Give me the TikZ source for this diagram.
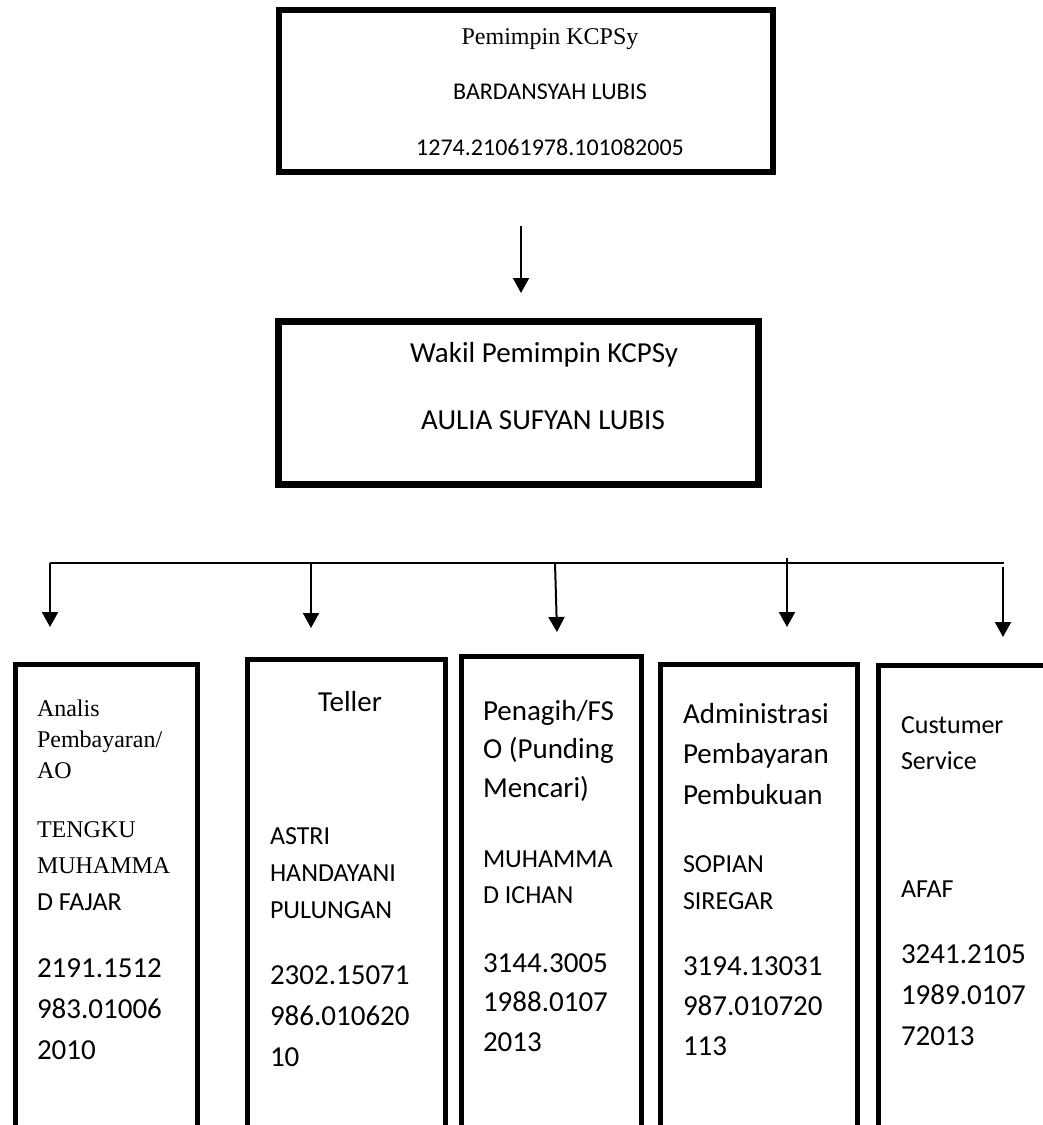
\documentclass[tikz,border=0pt]{standalone}
\usepackage{fontspec}
\setmainfont{Carlito}
\newfontfamily\timesrm{Liberation Serif}
\usetikzlibrary{arrows.meta}

\begin{document}
\begin{tikzpicture}[
    x=1pt, y=-1pt,
    every node/.style={inner sep=0pt, outer sep=0pt},
    org box/.style={draw, line width=5pt, anchor=north west},
    link/.style={line width=2pt, -{Triangle[length=15pt, width=16pt]}},
    bus/.style={line width=2pt},
    head text/.style={anchor=base, font=\fontsize{24}{30}\selectfont},
    % multi-line texts sit on the baseline of their last line
    title text/.style={anchor=base west, align=left, font=\fontsize{29}{40}\selectfont},
    name text/.style={anchor=base west, align=left, font=\fontsize{26}{37}\selectfont},
    nip text/.style={anchor=base west, align=left, font=\fontsize{29}{40}\selectfont},
  ]

  \useasboundingbox (0,0) rectangle (1043,1125);
  \clip (0,0) rectangle (1043,1125);

  % --- Pemimpin KCPSy ---
  \node[org box, line width=5.5pt, minimum width=494pt, minimum height=162pt] (head) at (279,10) {};
  \node[head text, font=\timesrm\fontsize{24}{30}\selectfont] (head-title) at (550,44) {Pemimpin KCPSy};
  \node[head text] (head-name) at (550,99) {BARDANSYAH LUBIS};
  \node[head text] (head-nip) at (550,155) {1274.21061978.101082005};

  % arrow down to the deputy (stops short of the box)
  \coordinate (head-out) at (521,226);
  \coordinate (deputy-in) at (521,293);
  \draw[link] (head-out) -- (deputy-in);

  % --- Wakil Pemimpin ---
  \node[org box, line width=6.5pt, minimum width=480pt, minimum height=163pt] (deputy) at (278.5,321.5) {};
  \node[head text, font=\fontsize{29}{36}\selectfont] (deputy-title) at (544,362) {Wakil Pemimpin KCPSy};
  \node[head text, font=\fontsize{29}{36}\selectfont] (deputy-name) at (543,429) {AULIA SUFYAN LUBIS};

  % --- Bus line and the five drops ---
  \coordinate (bus-w) at (50,563);
  \coordinate (bus-e) at (1004,563);
  \draw[bus] (bus-w) -- (bus-e);

  \foreach \name/\xa/\ya/\xb/\yb in {analis/50/563/50/627, teller/311/563/311/628,
      penagih/555/563/557/632, admin/787/558/787/627, cs/1003/567/1003/637} {
    \coordinate (\name-top) at (\xa,\ya);
    \coordinate (\name-tip) at (\xb,\yb);
    \draw[link] (\name-top) -- (\name-tip);
  }

  % --- Staff boxes (run off the bottom of the page) ---
  \node[org box, minimum width=182pt, minimum height=476pt] (analis) at (15.5,664.5) {};
  \node[org box, minimum width=198pt, minimum height=481pt] (teller) at (247.5,659.5) {};
  \node[org box, minimum width=180pt, minimum height=484pt] (penagih) at (461.5,656.5) {};
  \node[org box, minimum width=197pt, minimum height=476pt] (admin) at (660.5,664.5) {};
  \node[org box, minimum width=202pt, minimum height=475pt] (cs) at (878.5,665.5) {};

  % Analis
  \node[title text, font=\timesrm\fontsize{24}{31}\selectfont] (analis-title) at (37,778) {Analis\\Pembayaran/\\AO};
  \node[title text, font=\timesrm\fontsize{24}{36}\selectfont] (analis-name) at (37,873) {TENGKU\\MUHAMMA};
  \node[name text] (analis-name2) at (37,910) {D FAJAR};
  \node[nip text, font=\fontsize{29}{41}\selectfont] (analis-nip) at (37,1059) {2191.1512\\983.01006\\2010};

  % Teller
  \node[title text, anchor=base] (teller-title) at (350,711) {Teller};
  \node[name text] (teller-name) at (270,918) {ASTRI\\HANDAYANI\\PULUNGAN};
  \node[nip text, font=\fontsize{29}{41}\selectfont] (teller-nip) at (270,1066) {2302.15071\\986.010620\\10};

  % Penagih
  \node[title text, font=\fontsize{29}{38.5}\selectfont] (penagih-title) at (483,797) {Penagih/FS\\O (Punding\\Mencari)};
  \node[name text, font=\fontsize{26}{36}\selectfont] (penagih-name) at (483,903) {MUHAMMA\\D ICHAN};
  \node[nip text, font=\fontsize{29}{39.5}\selectfont] (penagih-nip) at (483,1051) {3144.3005\\1988.0107\\2013};

  % Administrasi
  \node[title text, font=\fontsize{29}{40.5}\selectfont] (admin-title) at (683,804) {Administrasi\\Pembayaran\\Pembukuan};
  \node[name text] (admin-name) at (683,909) {SOPIAN\\SIREGAR};
  \node[nip text] (admin-nip) at (683,1055) {3194.13031\\987.010720\\113};

  % Custumer Service
  \node[name text, font=\fontsize{26}{36}\selectfont] (cs-title) at (901,769) {Custumer\\Service};
  \node[name text] (cs-name) at (901,897) {AFAF};
  \node[nip text, font=\fontsize{29}{41}\selectfont] (cs-nip) at (901,1045) {3241.2105\\1989.0107\\72013};

\end{tikzpicture}
\end{document}
